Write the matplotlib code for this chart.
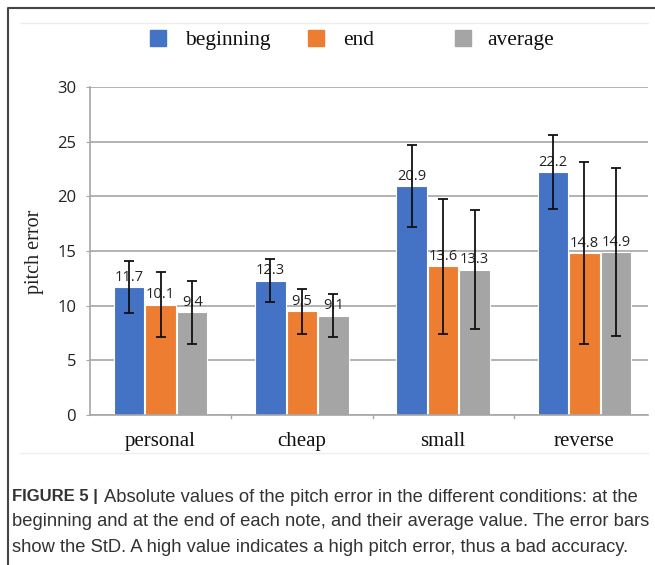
import numpy as np
import matplotlib
matplotlib.use("Agg")
import matplotlib.pyplot as plt
from matplotlib.lines import Line2D

# data
conditions = ["personal", "cheap", "small", "reverse"]
series_names = ["beginning", "end", "average"]
beginning = [11.7, 12.3, 20.9, 22.2]
end = [10.1, 9.5, 13.6, 14.8]
average = [9.4, 9.1, 13.3, 14.9]
beginning_sd = [2.35, 1.95, 3.75, 3.4]
end_sd = [2.95, 2.05, 6.2, 8.35]
average_sd = [2.9, 2.0, 5.45, 7.65]
colors = ["#4472C4", "#ED7D31", "#A5A5A5"]

caption_bold = "FIGURE 5 |"
caption_lines = [
    "Absolute values of the pitch error in the different conditions: at the",
    "beginning and at the end of each note, and their average value. The error bars",
    "show the StD. A high value indicates a high pitch error, thus a bad accuracy.",
]

W, H = 655, 565
fig = plt.figure(figsize=(W / 100, H / 100), dpi=100)

def fx(px):
    return px / W

def fy(py):
    return 1 - py / H

ax = fig.add_axes([fx(90), fy(415), fx(648) - fx(90), fy(87) - fy(415)])

x = np.arange(len(conditions))
width = 0.215
offsets = [-0.223, 0, 0.223]
grid_c = "#A6A6A6"

for vals, sds, off, col, name in zip([beginning, end, average],
                                     [beginning_sd, end_sd, average_sd],
                                     offsets, colors, series_names):
    ax.bar(x + off, vals, width, color=col, edgecolor="white",
           linewidth=0.8, label=name, zorder=2)
    ax.errorbar(x + off, vals, yerr=sds, fmt="none", ecolor="#111111",
                elinewidth=1.3, capsize=3.5, capthick=1.3, zorder=4)
    for xi, v in zip(x + off, vals):
        ax.text(xi, v + 0.2, f"{v}", ha="center", va="bottom",
                family="Open Sans", fontsize=10.5, color="#222222", zorder=3)

ax.set_xlim(-0.5, 3.45)
ax.set_ylim(0, 30)
ax.set_yticks(range(0, 31, 5))
ax.yaxis.grid(True, color=grid_c, linewidth=1.2, zorder=0)
ax.set_axisbelow(True)
for s in ["top", "right"]:
    ax.spines[s].set_visible(False)
ax.spines["left"].set_color(grid_c)
ax.spines["left"].set_linewidth(1.2)
ax.spines["bottom"].set_color(grid_c)
ax.spines["bottom"].set_linewidth(1.2)
ax.tick_params(axis="y", length=3, color=grid_c, pad=7, labelsize=12,
               labelcolor="#222222")
for lab in ax.get_yticklabels():
    lab.set_family("Open Sans")

ax.set_xticks(x)
ax.set_xticklabels(conditions, family="Liberation Serif", fontsize=15,
                   color="#111111")
ax.tick_params(axis="x", length=0, pad=12)
# separators between the groups
for b in [0.5, 1.5, 2.5]:
    ax.plot([b, b], [0, -0.3], color=grid_c, lw=1, clip_on=False)

fig.text(fx(35), fy(252), "pitch error", family="Liberation Serif",
         fontsize=14.5, color="#222222", rotation=90, ha="center", va="center")

# legend placed by hand along the top
legend_sq = [158, 316, 463]
legend_tx = [185, 343, 487]
for sx, tx, c, name in zip(legend_sq, legend_tx, colors, series_names):
    fig.add_artist(Line2D([fx(sx)], [fy(38)], marker="s", ls="none",
                          markersize=11.5, markerfacecolor=c, markeredgecolor=c))
    fig.text(fx(tx), fy(45), name, family="Liberation Serif", fontsize=15.5,
             color="#111111", va="baseline", ha="left")

# faint frame lines of the chart area
fig.add_artist(Line2D([fx(20), fx(648)], [fy(23), fy(23)], color="#EEEEEE", lw=1))
fig.add_artist(Line2D([fx(20), fx(648)], [fy(453), fy(453)], color="#EEEEEE", lw=1))

# outer border (left and top)
fig.add_artist(Line2D([fx(7.5), fx(7.5), fx(655)], [fy(565), fy(7.5), fy(7.5)],
                      color="#444444", lw=1.5))

fig.text(fx(12), fy(497), caption_bold, family="Liberation Sans", weight="bold",
         fontsize=12, color="#333333", va="center")
fig.text(fx(104), fy(497), caption_lines[0], family="Liberation Sans",
         fontsize=13.2, color="#333333", va="center")
fig.text(fx(12), fy(522), caption_lines[1], family="Liberation Sans",
         fontsize=13.2, color="#333333", va="center")
fig.text(fx(12), fy(547), caption_lines[2], family="Liberation Sans",
         fontsize=13.2, color="#333333", va="center")

fig.savefig("out.png", dpi=100)
